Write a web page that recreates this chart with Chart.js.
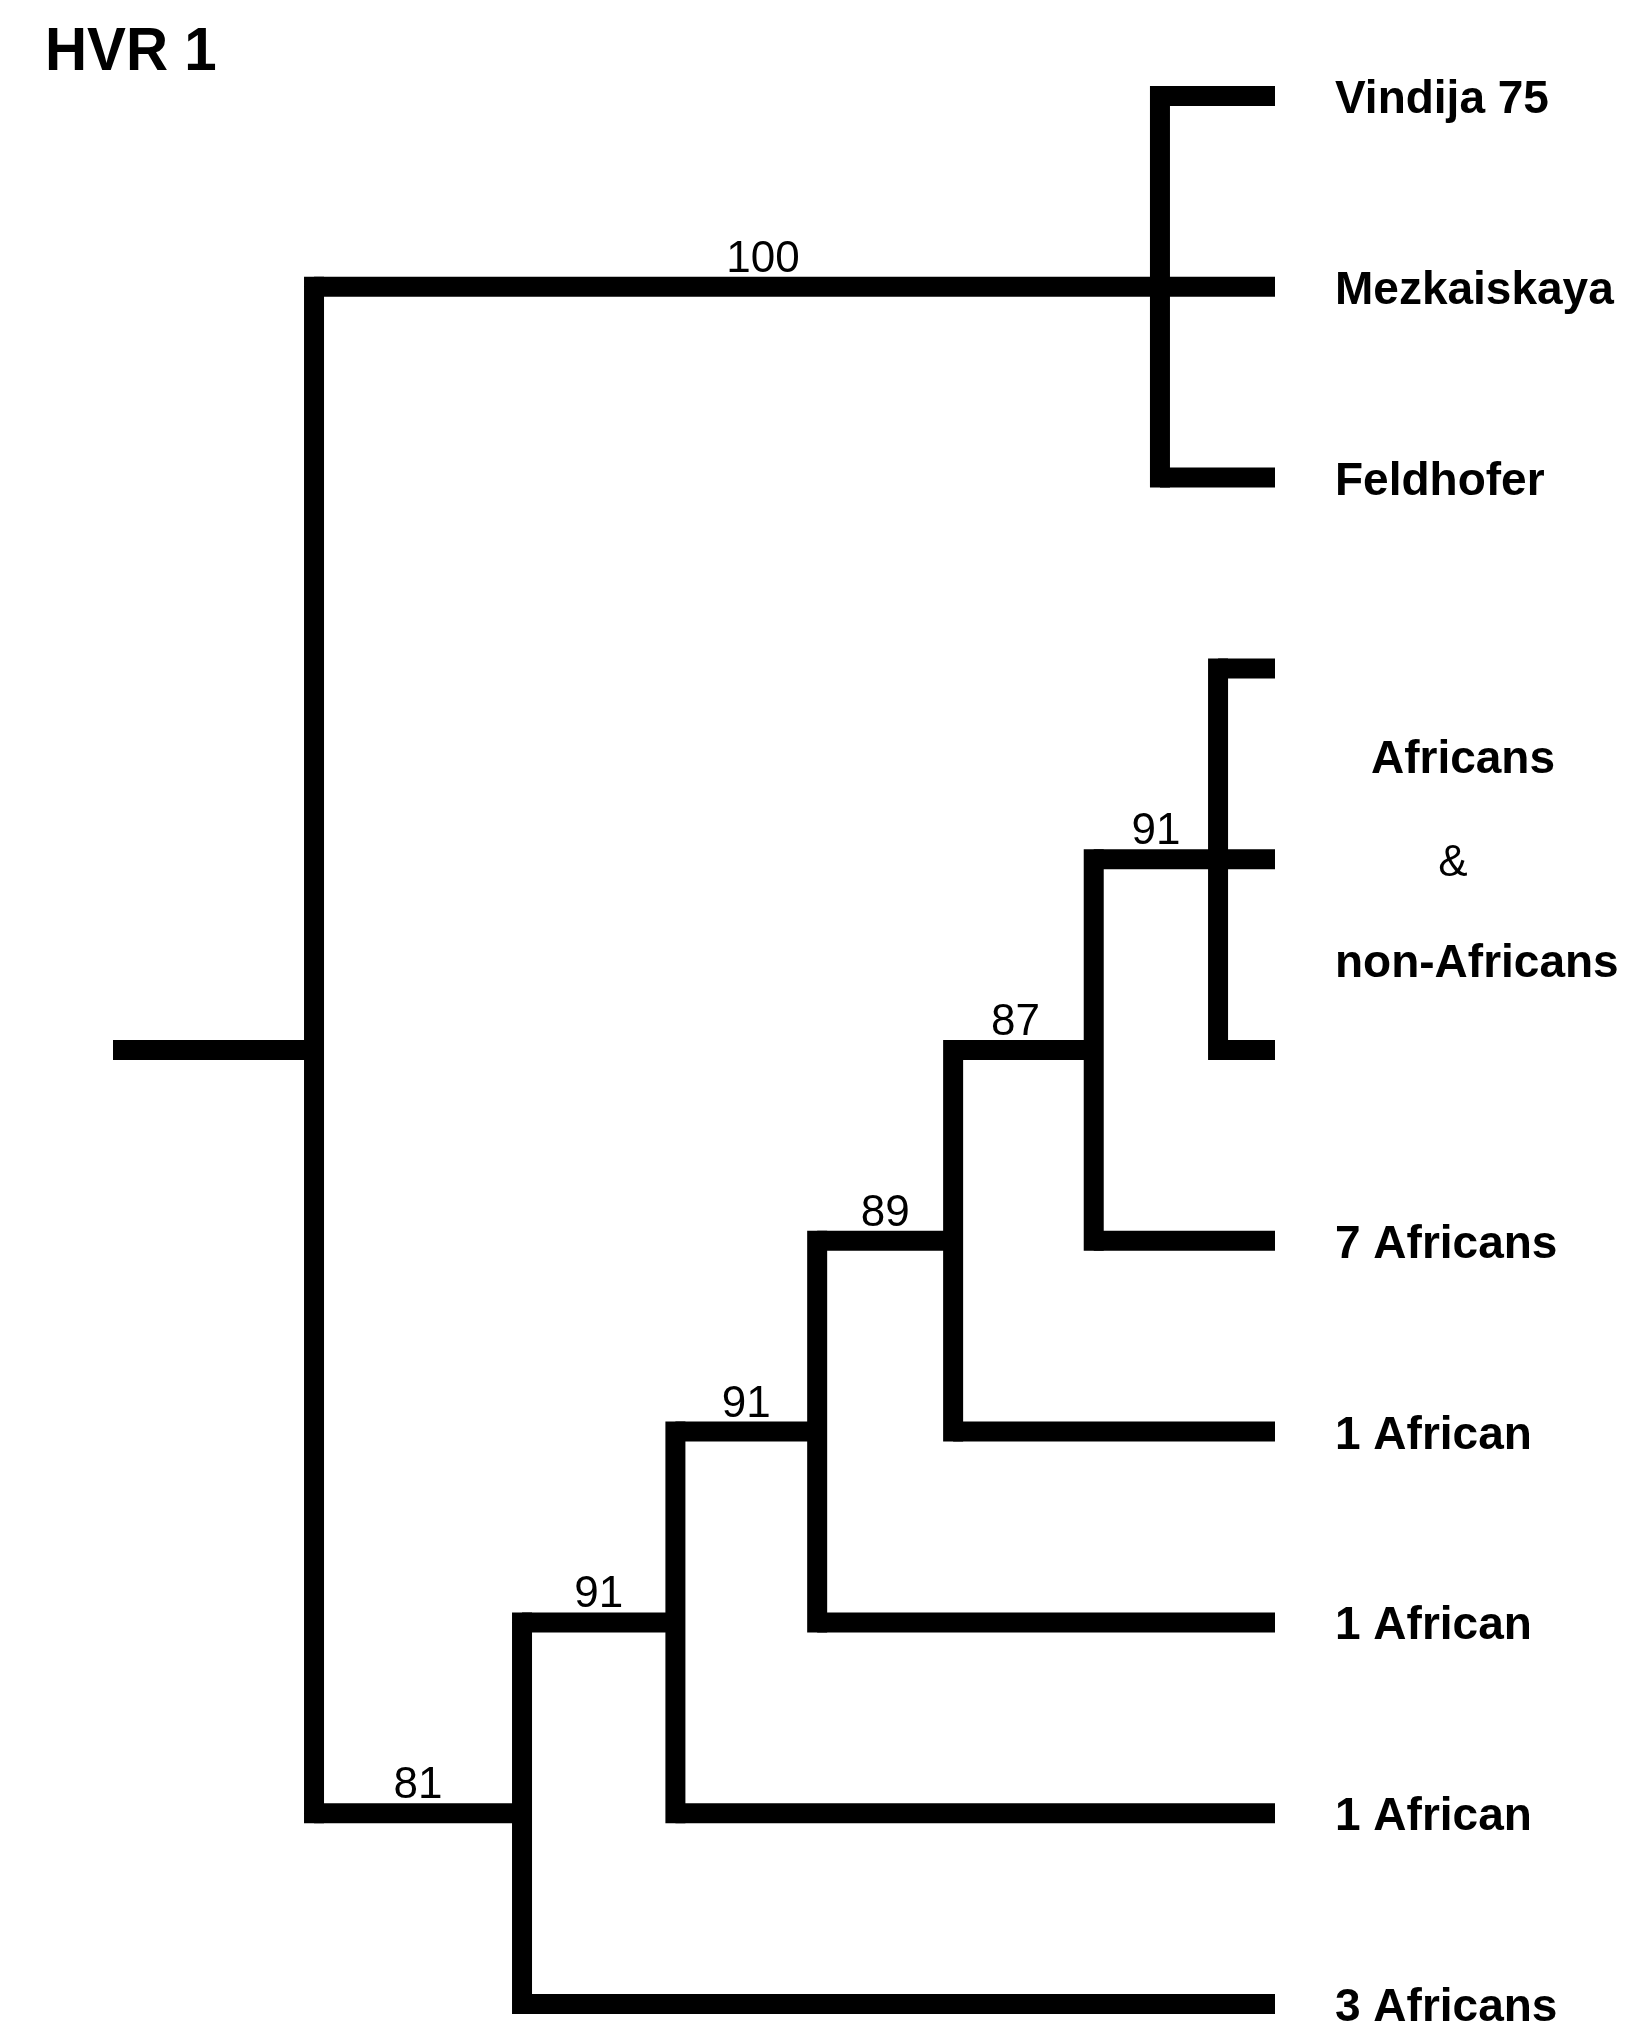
<!DOCTYPE html>
<html>
<head>
<meta charset="utf-8">
<script src="https://cdn.jsdelivr.net/npm/chart.js@4.4.1/dist/chart.umd.min.js"></script>
<style>
  html, body { margin: 0; padding: 0; background: #ffffff; }
  #wrap { width: 1628px; height: 2023px; }
</style>
</head>
<body>
<div id="wrap"><canvas id="c" width="1628" height="2023"></canvas></div>
<script>
// ---- Data (HVR 1) ----
// Leaves, top to bottom (row index = position on the vertical axis)
const leafNames = ['Vindija 75', 'Mezkaiskaya', 'Feldhofer', '', '', '', '7 Africans', '1 African', '1 African', '1 African', '3 Africans'];
// Internal nodes
const nodeIds      = ['A', 'N', 'B', 'C', 'D', 'E', 'F', 'G'];
const nodeDepth    = [17.3, 90.1, 35.2, 48.4, 60.6, 72.3, 84.4, 95.1];   // horizontal position (0 = root stem start, 100 = tips)
const nodeParent   = [null, 'A', 'A', 'B', 'C', 'D', 'E', 'F'];
const nodeSupport  = ['', '100', '81', '91', '91', '89', '87', '91'];   // bootstrap value on the branch leading to the node
// Leaf attachments (which internal node each leaf hangs from)
const leafParent   = ['N', 'N', 'N', 'G', 'G', 'G', 'F', 'E', 'D', 'C', 'B'];
const tipDepth = 100;
const stemStart = 0;
// Group label for the unlabeled tips
const groupLabelLines = ['Africans', '&', 'non-Africans'];
const groupLabelRows  = [3.46, 4.0, 4.53];
const titleText = 'HVR 1';

// ---- Styling (pixel nudges for the support labels, not data) ----
const supportNudgePx = { N: 26, F: -8 };

// ---- Build tree geometry from data ----
const nodeX = {}; nodeIds.forEach((id, i) => nodeX[id] = nodeDepth[i]);
const childrenRows = {}; nodeIds.forEach(id => childrenRows[id] = []);
const nodeY = {};
function computeY(id) {
  if (nodeY[id] !== undefined) return nodeY[id];
  const rows = [];
  leafParent.forEach((p, i) => { if (p === id) rows.push(i); });
  nodeIds.forEach((cid, i) => { if (nodeParent[i] === id) rows.push(computeY(cid)); });
  childrenRows[id] = rows;
  nodeY[id] = (Math.min(...rows) + Math.max(...rows)) / 2;
  return nodeY[id];
}
nodeIds.forEach(computeY);

const LW = 20;
const seg = (x1, y1, x2, y2, cap) => ({
  data: [{x: x1, y: y1}, {x: x2, y: y2}],
  showLine: true, borderColor: '#000000', backgroundColor: '#000000',
  borderWidth: LW, pointRadius: 0, pointHoverRadius: 0, tension: 0,
  borderCapStyle: cap, borderJoinStyle: 'miter', clip: false
});

const datasets = [];
// root stem
datasets.push(seg(stemStart, nodeY['A'], nodeX['A'], nodeY['A'], 'butt'));
// verticals
nodeIds.forEach(id => {
  const rows = childrenRows[id];
  datasets.push(seg(nodeX[id], Math.min(...rows), nodeX[id], Math.max(...rows), 'square'));
});
// horizontals to internal children
nodeIds.forEach((id, i) => {
  const p = nodeParent[i];
  if (p) datasets.push(seg(nodeX[p], nodeY[id], nodeX[id], nodeY[id], 'butt'));
});
// horizontals to leaves
leafParent.forEach((p, i) => {
  datasets.push(seg(nodeX[p], i, tipDepth, i, 'butt'));
});

const FONT = '"Liberation Sans", Arial, Helvetica, sans-serif';

const labelPlugin = {
  id: 'treeLabels',
  afterDraw(chart) {
    const ctx = chart.ctx;
    const xs = chart.scales.x, ys = chart.scales.y;
    ctx.save();
    ctx.fillStyle = '#000000';
    // title
    ctx.save();
    ctx.font = 'bold 62px ' + FONT;
    ctx.textAlign = 'left'; ctx.textBaseline = 'alphabetic';
    ctx.translate(45, 70);
    ctx.scale(0.94, 1);
    ctx.fillText(titleText, 0, 0);
    ctx.restore();
    // support values
    ctx.font = '44px ' + FONT;
    ctx.textAlign = 'center'; ctx.textBaseline = 'alphabetic';
    nodeIds.forEach((id, i) => {
      const p = nodeParent[i];
      if (!p || !nodeSupport[i]) return;
      const cx = (xs.getPixelForValue(nodeX[p]) + xs.getPixelForValue(nodeX[id])) / 2 + (supportNudgePx[id] || 0);
      const cy = ys.getPixelForValue(nodeY[id]) - 15;
      ctx.fillText(nodeSupport[i], cx, cy);
    });
    // leaf labels
    const tipPx = xs.getPixelForValue(tipDepth);
    ctx.font = 'bold 46px ' + FONT;
    ctx.textAlign = 'left';
    leafNames.forEach((name, i) => {
      if (!name) return;
      ctx.fillText(name, tipPx + 60, ys.getPixelForValue(i) + 17);
    });
    // group label
    const gx = tipPx + 188;
    groupLabelLines.forEach((line, k) => {
      const by = ys.getPixelForValue(groupLabelRows[k]) + 17;
      if (line === '&') {
        ctx.font = '44px ' + FONT; ctx.textAlign = 'center';
        ctx.fillText(line, gx - 10, by);
      } else if (line.startsWith('non-')) {
        ctx.font = 'bold 46px ' + FONT; ctx.textAlign = 'left';
        ctx.fillText(line, tipPx + 60, by);
      } else {
        ctx.font = 'bold 46px ' + FONT; ctx.textAlign = 'center';
        ctx.fillText(line, gx, by);
      }
    });
    ctx.restore();
  }
};

new Chart(document.getElementById('c').getContext('2d'), {
  type: 'scatter',
  data: { datasets },
  options: {
    responsive: false,
    animation: false,
    devicePixelRatio: 1,
    layout: { padding: { left: 113, right: 353, top: 96, bottom: 19 } },
    scales: {
      x: { type: 'linear', min: 0, max: 100, display: false },
      y: { type: 'linear', min: 0, max: 10, reverse: true, display: false }
    },
    plugins: { legend: { display: false }, tooltip: { enabled: false }, title: { display: false } },
    events: []
  },
  plugins: [labelPlugin]
});
</script>
</body>
</html>
